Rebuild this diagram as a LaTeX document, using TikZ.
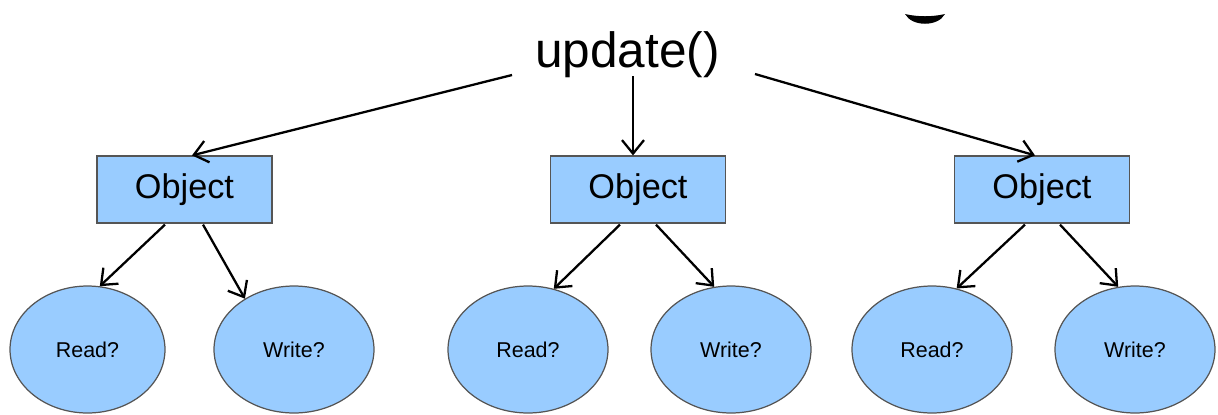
\documentclass[tikz,border=0pt]{standalone}
\usepackage{fontspec}
\setmainfont{Liberation Sans}
\usetikzlibrary{arrows.meta,shapes.geometric,calc}
\definecolor{objblue}{RGB}{153,204,255}
\definecolor{edgegray}{RGB}{85,85,85}
\begin{document}
\begin{tikzpicture}[x=0.02cm,y=-0.02cm,
  objbox/.style={draw=edgegray,line width=0.7pt,fill=objblue,
    minimum width=3.5cm,minimum height=1.34cm,inner sep=0pt,
    font=\fontsize{19.5}{22}\selectfont},
  query/.style={ellipse,draw=edgegray,line width=0.7pt,fill=objblue,
    minimum width=3.2cm,minimum height=2.54cm,inner sep=0pt,
    font=\fontsize{12.2}{14}\selectfont},
  link/.style={draw=black,line width=1.3pt,
    -{Straight Barb[length=0.27cm,width=0.44cm]}}]
  \useasboundingbox (0,0) rectangle (1218,414);

  % lower edge of a clipped heading glyph
  \fill (905,14) .. controls (918,17) and (932,17) .. (945,14)
        .. controls (938,27) and (912,27) .. (905,14) -- cycle;

  % root call
  \node[anchor=base,inner sep=0pt,font=\fontsize{28.2}{32}\selectfont]
    (upd) at (627.5,67) {update()};
  \coordinate (updL) at (512,75);
  \coordinate (updM) at (633,76);
  \coordinate (updR) at (755,74);

  % objects
  \node[objbox] (o1) at (184.5,189.5) {Object};
  \node[objbox] (o2) at (638,189.5) {Object};
  \node[objbox] (o3) at (1042,189.5) {Object};

  % access checks
  \node[query,minimum width=3.1cm] (r1) at (87.5,349.5) {Read?};
  \node[query] (w1) at (294,349.5) {Write?};
  \node[query] (r2) at (528,349.5) {Read?};
  \node[query] (w2) at (731,349.5) {Write?};
  \node[query] (r3) at (932,349.5) {Read?};
  \node[query] (w3) at (1135,349.5) {Write?};

  % update() to each object
  \draw[link] (updL) -- ($(o1.north)+(7.5,0)$);
  \draw[link] (updM) -- ($(o2.north)+(-5,0)$);
  \draw[link] (updR) -- ($(o3.north)+(-7,0)$);

  % each object to its checks
  \draw[link] ($(o1.south)+(-19.5,1)$) -- (r1.79);
  \draw[link] ($(o1.south)+(18.5,1)$) -- (w1.134);
  \draw[link] ($(o2.south)+(-18,1)$) -- (r2.67);
  \draw[link] ($(o2.south)+(18,1)$) -- (w2.105);
  \draw[link] ($(o3.south)+(-17,1)$) -- (r3.68);
  \draw[link] ($(o3.south)+(18,1)$) -- (w3.105);
\end{tikzpicture}
\end{document}
